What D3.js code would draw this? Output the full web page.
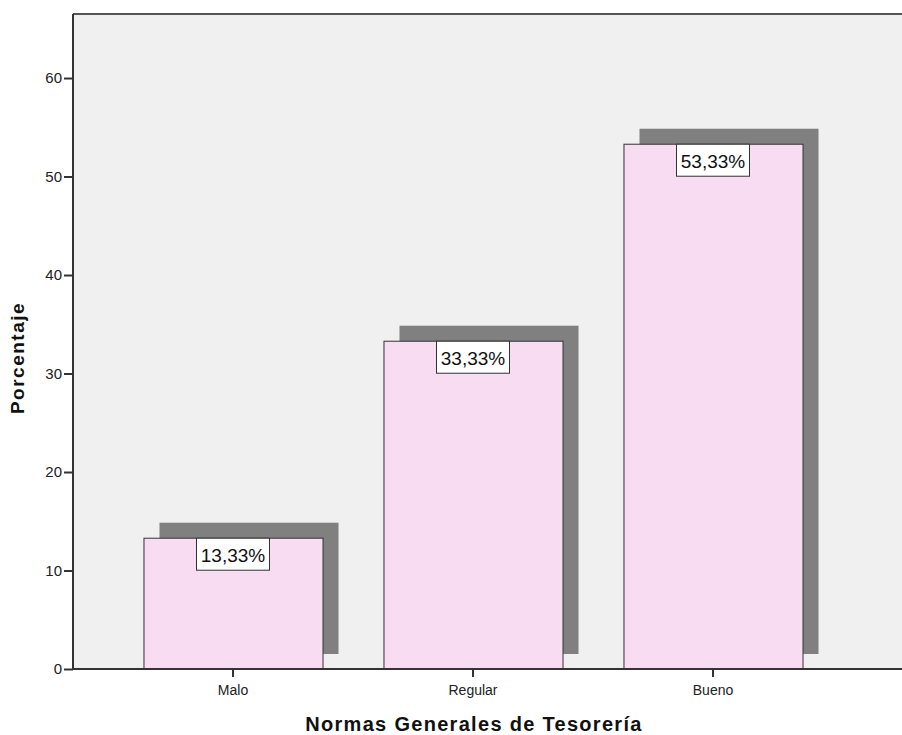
<!DOCTYPE html>
<html>
<head>
<meta charset="utf-8">
<script src="https://cdn.jsdelivr.net/npm/d3@7"></script>
<style>
  html, body { margin: 0; padding: 0; background: #ffffff; }
  svg { display: block; font-family: "Liberation Sans", Arial, sans-serif; }
</style>
</head>
<body>
<svg id="chart" width="902" height="735"></svg>
<script>
// Percentage of responses per rating category
const categories = ["Malo", "Regular", "Bueno"];
const percentages = [13.33, 33.33, 53.33];
const yTicks = [0, 10, 20, 30, 40, 50, 60];
const xTitle = "Normas Generales de Tesorería";
const yTitle = "Porcentaje";

const svg = d3.select("#chart");
const plot = { left: 73, top: 14, right: 902, bottom: 669 };

const y = d3.scaleLinear().domain([0, 66.5]).range([plot.bottom, plot.top]);
const x = d3.scaleBand()
  .domain(categories)
  .range([113, 833])
  .paddingInner(0.254)
  .paddingOuter(0.127);

// plot panel
svg.append("rect")
  .attr("x", plot.left).attr("y", plot.top)
  .attr("width", plot.right - plot.left).attr("height", plot.bottom - plot.top)
  .attr("fill", "#f0f0f0");

const data = categories.map((c, i) => ({ c, v: percentages[i] }));
const shadowDx = 16, shadowDy = -15;

// drop shadows
svg.append("g").selectAll("rect").data(data).join("rect")
  .attr("x", d => x(d.c) + shadowDx)
  .attr("y", d => y(d.v) + shadowDy)
  .attr("width", x.bandwidth())
  .attr("height", d => y(0) - y(d.v))
  .attr("fill", "#808080");

// bars
svg.append("g").selectAll("rect").data(data).join("rect")
  .attr("x", d => x(d.c) + 0.5)
  .attr("y", d => y(d.v) + 0.5)
  .attr("width", x.bandwidth())
  .attr("height", d => y(0) - y(d.v))
  .attr("fill", "#f8dcf1")
  .attr("stroke", "#333333")
  .attr("stroke-width", 1);

// value labels
const fmt = v => v.toFixed(2).replace(".", ",") + "%";
const labels = svg.append("g").selectAll("g").data(data).join("g")
  .attr("transform", d => `translate(${x(d.c) + x.bandwidth() / 2},${y(d.v)})`);
labels.append("rect")
  .attr("x", -36.5).attr("y", 0.5)
  .attr("width", 73).attr("height", 32)
  .attr("fill", "#ffffff")
  .attr("stroke", "#333333")
  .attr("stroke-width", 1);
labels.append("text")
  .attr("x", 0).attr("y", 24)
  .attr("text-anchor", "middle")
  .attr("font-size", 19)
  .attr("fill", "#111")
  .text(d => fmt(d.v));

// axes
const yAxis = svg.append("g")
  .attr("transform", `translate(${plot.left},0)`)
  .call(d3.axisLeft(y).tickValues(yTicks).tickSize(9).tickPadding(2).tickFormat(d3.format("d")));
yAxis.select(".domain").remove();
yAxis.selectAll(".tick line").attr("stroke", "#333").attr("stroke-width", 2);
yAxis.selectAll(".tick text").attr("font-size", 15).attr("font-family", "Liberation Sans, Arial, sans-serif").attr("fill", "#222");

const xAxis = svg.append("g")
  .attr("transform", `translate(0,${plot.bottom})`)
  .call(d3.axisBottom(x).tickSize(8).tickPadding(0));
xAxis.select(".domain").remove();
xAxis.selectAll(".tick line").attr("stroke", "#333").attr("stroke-width", 2);
xAxis.selectAll(".tick text")
  .attr("y", 26).attr("dy", null)
  .attr("font-size", 14).attr("font-family", "Liberation Sans, Arial, sans-serif").attr("fill", "#222");

// panel frame: top edge, left edge, baseline
svg.append("path")
  .attr("d", `M${plot.right},${plot.top} H${plot.left}`)
  .attr("fill", "none").attr("stroke", "#555555").attr("stroke-width", 2);
svg.append("path")
  .attr("d", `M${plot.left},${plot.top} V${plot.bottom} H${plot.right}`)
  .attr("fill", "none").attr("stroke", "#333333").attr("stroke-width", 2);

// titles
svg.append("text")
  .attr("x", 474).attr("y", 731)
  .attr("text-anchor", "middle")
  .attr("font-size", 20).attr("font-weight", "bold")
  .attr("letter-spacing", 1.3)
  .attr("fill", "#111")
  .text(xTitle);

svg.append("text")
  .attr("transform", `translate(24,358) rotate(-90)`)
  .attr("text-anchor", "middle")
  .attr("font-size", 19).attr("font-weight", "bold")
  .attr("letter-spacing", 1.5)
  .attr("fill", "#111")
  .text(yTitle);
</script>
</body>
</html>
